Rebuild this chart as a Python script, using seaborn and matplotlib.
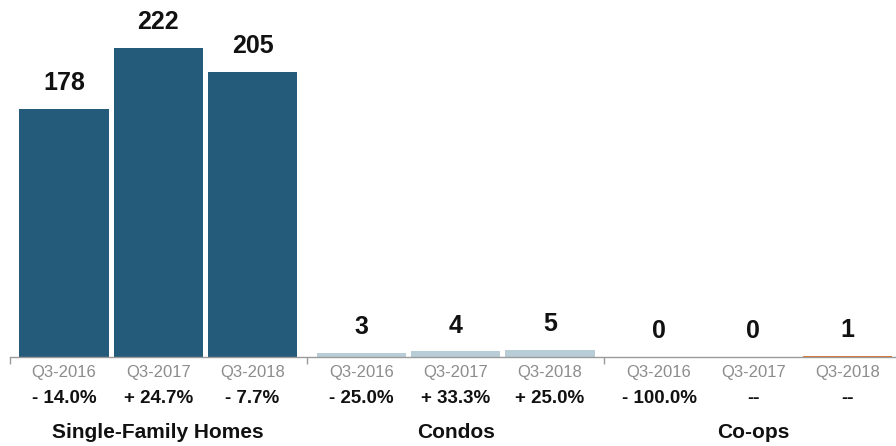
import matplotlib
matplotlib.use("Agg")
import matplotlib.pyplot as plt
import seaborn as sns
import pandas as pd

groups = ["Single-Family Homes", "Condos", "Co-ops"]
periods = ["Q3-2016", "Q3-2017", "Q3-2018"]
sfh = [178, 222, 205]
condos = [3, 4, 5]
coops = [0, 0, 1]
sfh_chg = ["- 14.0%", "+ 24.7%", "- 7.7%"]
condo_chg = ["- 25.0%", "+ 33.3%", "+ 25.0%"]
coop_chg = ["- 100.0%", "--", "--"]
group_colors = ["#245a7a", "#b9cdd7", "#e2772f"]

values = [sfh, condos, coops]
changes = [sfh_chg, condo_chg, coop_chg]

df = pd.DataFrame({
    "group": [g for g in groups for _ in periods],
    "period": periods * len(groups),
    "value": sfh + condos + coops,
})

sns.set_style("white")
plt.rcParams["font.family"] = ["Liberation Sans", "DejaVu Sans"]

fig = plt.figure(figsize=(8.96, 4.46), dpi=100)
ax = fig.add_axes([9.5 / 896, 89 / 446, 886.5 / 896, 357 / 446])

sns.barplot(data=df, x="group", y="value", hue="period", order=groups,
            hue_order=periods, width=0.95, gap=0.053, linewidth=0,
            legend=False, ax=ax, errorbar=None,
            palette=["#888888"] * 3)

ax.set_xlim(-0.5, 2.48)
ax.set_ylim(0, 256.5)

for pi, cont in enumerate(ax.containers):
    for bar in cont:
        cx = bar.get_x() + bar.get_width() / 2
        gi = int(round(cx))
        bar.set_facecolor(group_colors[gi])
        val = values[gi][pi]
        h = bar.get_height()
        ax.annotate(f"{val}", xy=(cx, h), xytext=(0, 10), textcoords="offset points",
                    ha="center", va="bottom", fontsize=18, fontweight="bold", color="#111111")
        ax.annotate(periods[pi], xy=(cx, 0), xycoords=ax.get_xaxis_transform(),
                    xytext=(0, -11), textcoords="offset points",
                    ha="center", va="center", fontsize=12, color="#8c8c8c")
        chg = changes[gi][pi]
        ax.annotate(chg, xy=(cx, 0), xycoords=ax.get_xaxis_transform(),
                    xytext=(0, -30), textcoords="offset points",
                    ha="center", va="center", fontsize=13.5, fontweight="bold", color="#111111")

for gi, g in enumerate(groups):
    ax.annotate(g, xy=(gi, 0), xycoords=ax.get_xaxis_transform(),
                xytext=(0, -54), textcoords="offset points",
                ha="center", va="center", fontsize=15, fontweight="bold", color="#111111")

for s in ["top", "left", "right"]:
    ax.spines[s].set_visible(False)
ax.spines["bottom"].set_color("#9a9a9a")
ax.spines["bottom"].set_linewidth(1)
ax.set_xticks([-0.5, 0.5, 1.5])
ax.set_xticklabels([])
ax.tick_params(axis="x", direction="out", length=5, color="#9a9a9a", width=1, bottom=True)
ax.set_yticks([])
ax.set_xlabel("")
ax.set_ylabel("")

fig.savefig("out.png", dpi=100)
